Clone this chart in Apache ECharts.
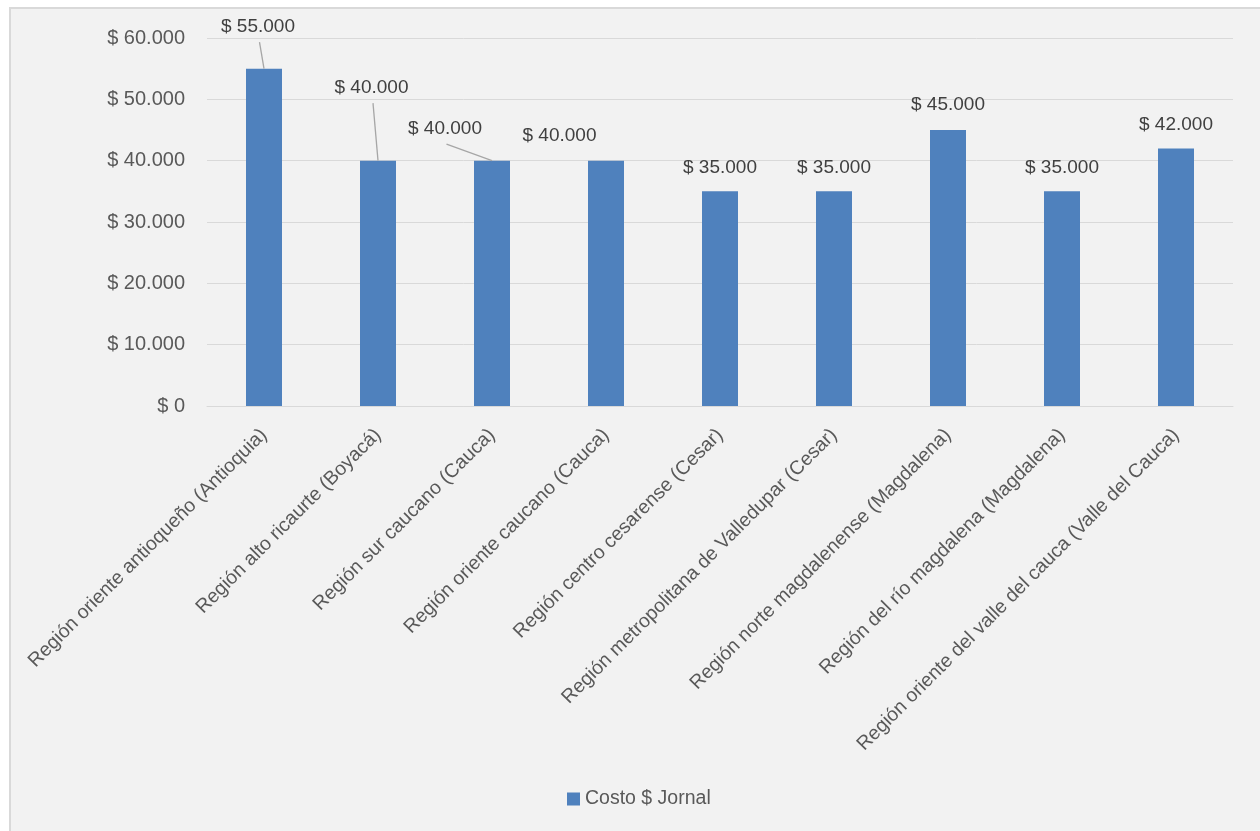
<!DOCTYPE html>
<html><head><meta charset="utf-8">
<script src="https://cdn.jsdelivr.net/npm/echarts@6/dist/echarts.min.js"></script>
<style>html,body{margin:0;padding:0;background:#fff;}#c{width:1260px;height:831px;}</style>
</head><body><div id="c"></div>
<script>
var categories = [
  'Región oriente antioqueño (Antioquia)',
  'Región alto ricaurte (Boyacá)',
  'Región sur caucano (Cauca)',
  'Región oriente caucano (Cauca)',
  'Región centro cesarense (Cesar)',
  'Región metropolitana de Valledupar (Cesar)',
  'Región norte magdalenense (Magdalena)',
  'Región del río magdalena (Magdalena)',
  'Región oriente del valle del cauca (Valle del Cauca)'
];
var costoJornal = [55000, 40000, 40000, 40000, 35000, 35000, 45000, 35000, 42000];
var seriesName = 'Costo $ Jornal';
var yTicks = [0, 10000, 20000, 30000, 40000, 50000, 60000];

var FONT = '"Liberation Sans", Arial, sans-serif';
function fmt(v){ return '$ ' + String(v).replace(/\B(?=(\d{3})+(?!\d))/g, '.'); }

// label displacement (px) from default 'top' position, and which get a leader line
var labelShift = [[-6,-18],[-6.5,-49],[-47,-8],[-46.5,-1],[0,0],[0,0],[0,-2],[0,0],[0,0]];
var withLine = [true, true, true, false, false, false, false, false, false];
var LABEL_DIST = 14;

var bgRect = {
  id: 'bg', type: 'rect', z: -10, silent: true,
  shape: {x: 10, y: 8, width: 1260, height: 840},
  style: {fill: '#f2f2f2', stroke: '#d9d9d9', lineWidth: 2}
};

var chart = echarts.init(document.getElementById('c'), null, {renderer:'canvas'});
chart.setOption({
  backgroundColor: '#ffffff',
  animation: false,
  graphic: [bgRect],
  grid: {left: 207, right: 27, top: 38, bottom: 425, containLabel: false},
  xAxis: {
    type: 'category', data: categories,
    axisTick: {show: false},
    axisLine: {show: true, lineStyle: {color: '#d9d9d9', width: 1}},
    axisLabel: {rotate: 45, interval: 0, margin: 26, color: '#595959', fontSize: 19.5, fontFamily: FONT}
  },
  yAxis: {
    type: 'value', min: yTicks[0], max: yTicks[yTicks.length-1], interval: yTicks[1]-yTicks[0],
    axisLine: {show: false}, axisTick: {show: false},
    splitLine: {lineStyle: {color: '#d9d9d9', width: 1}},
    axisLabel: {formatter: fmt, color: '#595959', fontSize: 20, fontFamily: FONT, margin: 22}
  },
  legend: {
    bottom: 17, left: 562, itemWidth: 13, itemHeight: 13, icon: 'rect', itemGap: 5,
    textStyle: {color: '#595959', fontSize: 19.5, fontFamily: FONT},
    data: [seriesName]
  },
  series: [{
    type: 'bar', name: seriesName, barWidth: 36,
    itemStyle: {color: '#4f81bd'},
    data: costoJornal,
    label: {show: true, position: 'top', distance: LABEL_DIST, formatter: function(p){return fmt(p.value);},
      color: '#404040', fontSize: 19, fontFamily: FONT},
    labelLayout: function(p){
      var s = labelShift[p.dataIndex];
      return {dx: s[0], dy: s[1]};
    }
  }]
});

// leader lines from shifted labels to bar top centre, located via the chart's own scales
var lines = [bgRect];
costoJornal.forEach(function(v, i){
  if (!withLine[i]) return;
  var top = chart.convertToPixel({seriesIndex: 0}, [i, v]);
  var s = labelShift[i];
  var cx = top[0] + s[0];
  var cy = top[1] - LABEL_DIST - 12 + s[1];
  lines.push({
    type: 'line', silent: true, z: 5,
    shape: {x1: cx + 1.5, y1: cy + 17.5, x2: top[0], y2: top[1]},
    style: {stroke: '#a6a6a6', lineWidth: 1.3}
  });
});
chart.setOption({graphic: lines}, {replaceMerge: ['graphic']});
</script></body></html>
